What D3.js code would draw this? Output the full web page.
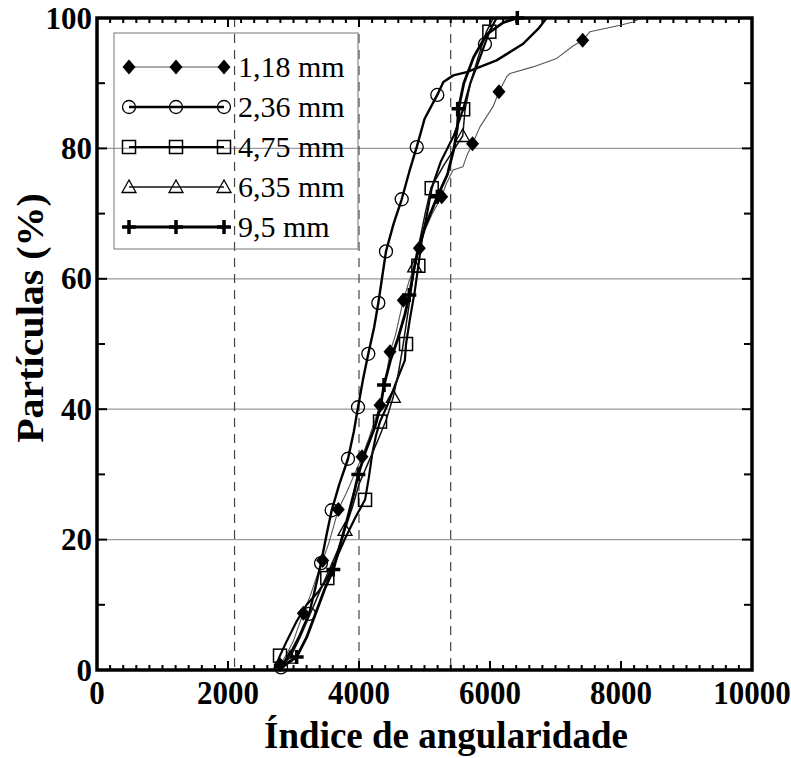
<!DOCTYPE html>
<html>
<head>
<meta charset="utf-8">
<script src="https://cdn.jsdelivr.net/npm/d3@7"></script>
<style>
  body { margin: 0; background: #fff; }
  svg { display: block; }
  text { font-family: "Liberation Serif", "Times New Roman", serif; fill: #000; }
</style>
</head>
<body>
<div id="chart"></div>
<script>
// series: [indice de angularidade, particulas %]
var line118 = [[2750,0],[2794,0.8],[2900,2.5],[3000,4.5],[3080,6.8],[3150,8.7],[3260,11.5],[3350,14.2],[3446,16.8],[3540,19.5],[3620,22.3],[3684,24.6],[3800,27],[3930,30],[4046,32.7],[4150,35.5],[4240,38.2],[4321,40.6],[4390,43.5],[4430,46],[4473,48.8],[4560,51.5],[4620,54.2],[4676,56.7],[4760,59.5],[4850,62],[4921,64.7],[5010,67.5],[5120,70],[5263,72.6],[5330,74.5],[5435,76.7],[5588,77.2],[5650,79],[5733,80.7],[5847,83.3],[6046,86.4],[6137,88.7],[6255,91],[6305,91.5],[6656,92.5],[7018,93.8],[7267,95.7],[7415,96.6],[7527,97.9],[7985,98.9],[8183,99.4],[8300,100]];
var line236 = [[2750,0],[2809,0.4],[2950,2.5],[3080,5],[3237,8.6],[3320,12],[3420,16.4],[3500,20.5],[3583,24.5],[3700,28.5],[3832,32.4],[3920,36.5],[3985,40.3],[4060,44.5],[4142,48.5],[4230,52.5],[4295,56.3],[4350,60],[4412,64.2],[4530,68.5],[4652,72.2],[4770,76.5],[4881,80.2],[5000,84.5],[5195,88.2],[5288,90.2],[5440,91.2],[5644,91.7],[6100,93.5],[6500,96],[6750,98.5],[6865,100]];
var line475 = [[2700,0],[2794,2.2],[2900,4.5],[3050,7.5],[3200,10],[3380,12],[3516,14.1],[3650,17],[3780,20],[3950,23.5],[4092,26.1],[4150,29.5],[4200,33],[4260,36],[4321,38.1],[4450,41],[4600,45],[4700,47.5],[4718,50],[4780,54],[4850,58],[4906,62],[4960,66],[5040,70],[5110,73.9],[5250,78],[5450,82],[5590,86],[5700,90],[5850,94],[5990,97.9],[6100,100]];
var line635 = [[2750,0],[2850,1],[2950,1.9],[3100,5],[3250,8.5],[3400,12],[3550,15.5],[3680,18.5],[3786,21.5],[3900,25],[4000,28.5],[4150,32],[4300,35.5],[4420,38.5],[4524,41.9],[4600,45.5],[4660,49],[4720,53],[4780,57],[4850,61.9],[4930,66],[5010,70],[5100,74],[5300,77.5],[5583,81.9],[5620,86],[5700,90],[5820,94],[5950,98],[6050,100]];
var line95 = [[2780,0],[2900,1],[3048,2],[3200,5],[3350,9],[3480,12.5],[3608,15.4],[3720,19.5],[3830,23.5],[3920,27],[3990,30],[4100,33.5],[4250,37.5],[4330,40.5],[4382,43.7],[4480,47.5],[4600,51],[4700,54.5],[4768,57.5],[4830,61],[4900,64.5],[5010,68],[5196,72.6],[5350,76],[5450,80],[5500,83],[5520,86.1],[5600,90],[5750,94],[5950,97.5],[6200,99.3],[6417,100]];

// marker positions
var marks118 = [[2794,0.8],[3150,8.7],[3446,16.8],[3684,24.6],[4046,32.7],[4321,40.6],[4473,48.8],[4676,56.7],[4921,64.7],[5263,72.6],[5733,80.7],[6137,88.7],[7415,96.6]];
var marks236 = [[2809,0.4],[3237,8.6],[3420,16.4],[3583,24.5],[3832,32.4],[3985,40.3],[4142,48.5],[4295,56.3],[4412,64.2],[4652,72.2],[4881,80.2],[5195,88.2],[5923,96]];
var marks475 = [[2794,2.2],[3516,14.1],[4092,26.1],[4321,38.1],[4718,50],[4906,62],[5110,73.9],[5590,86],[5990,97.9]];
var marks635 = [[2950,1.9],[3786,21.5],[4524,41.9],[4850,61.9],[5583,81.9]];
var marks95 = [[3048,2],[3608,15.4],[3990,30],[4382,43.7],[4768,57.5],[5196,72.6],[5520,86.1],[6417,100]];

var seriesNames = ["1,18 mm", "2,36 mm", "4,75 mm", "6,35 mm", "9,5 mm"];
var xTicks = [0, 2000, 4000, 6000, 8000, 10000];
var yTicks = [0, 20, 40, 60, 80, 100];
var classLimits = [2100, 4000, 5400];

var svgWidth = 791;
var svgHeight = 758;
var margin = { top: 18, right: 39, bottom: 88, left: 97 };
var width = svgWidth - margin.left - margin.right;
var height = svgHeight - margin.top - margin.bottom;

var svg = d3.select("#chart").append("svg")
  .attr("width", svgWidth)
  .attr("height", svgHeight);

var chartGroup = svg.append("g")
  .attr("transform", `translate(${margin.left}, ${margin.top})`);

var x = d3.scaleLinear().domain([0, 10000]).range([0, width]);
var y = d3.scaleLinear().domain([0, 100]).range([height, 0]);

// the original figure is a bit taller than wide, so some text gets a vertical stretch
function stretchedText(parent, tx, ty, sx, sy, str, size, anchor, weight) {
  return parent.append("g")
    .attr("transform", `translate(${tx}, ${ty}) scale(${sx}, ${sy})`)
    .append("text")
    .attr("text-anchor", anchor)
    .attr("font-size", size)
    .attr("font-weight", weight)
    .text(str);
}

// grid lines
chartGroup.append("g").selectAll("line")
  .data([20, 40, 60, 80])
  .enter().append("line")
  .attr("x1", 0).attr("x2", width)
  .attr("y1", d => y(d)).attr("y2", d => y(d))
  .attr("stroke", "#9a9a9a")
  .attr("stroke-width", 1.2);

chartGroup.append("g").selectAll("line")
  .data(classLimits)
  .enter().append("line")
  .attr("x1", d => x(d)).attr("x2", d => x(d))
  .attr("y1", 0).attr("y2", height)
  .attr("stroke", "#444")
  .attr("stroke-width", 1.2)
  .attr("stroke-dasharray", "9,7");

// inward ticks on all four sides
var xMinor = d3.range(0, 10001, 200);
var yMinor = d3.range(0, 101, 10);
var tickG = chartGroup.append("g").attr("stroke", "#000").attr("stroke-width", 2);
xMinor.forEach(function(v) {
  var len = v % 2000 === 0 ? 9 : 5;
  tickG.append("line").attr("x1", x(v)).attr("x2", x(v)).attr("y1", height).attr("y2", height - len);
  tickG.append("line").attr("x1", x(v)).attr("x2", x(v)).attr("y1", 0).attr("y2", len);
});
yMinor.forEach(function(v) {
  var len = v % 20 === 0 ? 10 : 8;
  tickG.append("line").attr("x1", 0).attr("x2", len).attr("y1", y(v)).attr("y2", y(v));
  tickG.append("line").attr("x1", width).attr("x2", width - len).attr("y1", y(v)).attr("y2", y(v));
});

// tick labels
xTicks.forEach(function(t) {
  stretchedText(chartGroup, x(t), height + 34, 1, 1.1, t, "31px", "middle", "bold");
});
yTicks.forEach(function(t) {
  stretchedText(chartGroup, -5, y(t) + 10.5, 1, 1, t, "31px", "end", "bold");
});

// axis titles
stretchedText(svg, 446, 748, 1, 1.05, "Índice de angularidade", "37px", "middle", "bold");

svg.append("g")
  .attr("transform", "translate(43, 318) rotate(-90) scale(1.08, 1.05)")
  .append("text")
  .attr("text-anchor", "middle")
  .attr("font-size", "37px")
  .attr("font-weight", "bold")
  .text("Partículas (%)");

// series styles
var lineStyle = [
  { data: line118, marks: marks118, stroke: "#555", width: 1.1, shape: "diamond" },
  { data: line236, marks: marks236, stroke: "#000", width: 2.4, shape: "circle" },
  { data: line475, marks: marks475, stroke: "#000", width: 2.2, shape: "square" },
  { data: line635, marks: marks635, stroke: "#111", width: 1.5, shape: "triangle" },
  { data: line95, marks: marks95, stroke: "#000", width: 2.8, shape: "plus" }
];

var line = d3.line()
  .x(d => x(d[0]))
  .y(d => y(d[1]));

function drawMarker(g, shape, cx, cy) {
  if (shape === "diamond") {
    g.append("path").attr("d", `M${cx},${cy - 7.5}L${cx + 6.5},${cy}L${cx},${cy + 7.5}L${cx - 6.5},${cy}Z`)
      .attr("fill", "#000");
  } else if (shape === "circle") {
    g.append("circle").attr("cx", cx).attr("cy", cy).attr("r", 6.5)
      .attr("fill", "none").attr("stroke", "#000").attr("stroke-width", 1.3);
  } else if (shape === "square") {
    g.append("rect").attr("x", cx - 6.5).attr("y", cy - 6.5).attr("width", 13).attr("height", 13)
      .attr("fill", "none").attr("stroke", "#000").attr("stroke-width", 1.5);
  } else if (shape === "triangle") {
    g.append("path").attr("d", `M${cx},${cy - 7}L${cx + 7},${cy + 5.5}L${cx - 7},${cy + 5.5}Z`)
      .attr("fill", "none").attr("stroke", "#000").attr("stroke-width", 1.3);
  } else {
    g.append("path").attr("d", `M${cx - 7},${cy}H${cx + 7}M${cx},${cy - 7}V${cy + 7}`)
      .attr("stroke", "#000").attr("stroke-width", 3.5);
  }
}

lineStyle.forEach(function(s) {
  chartGroup.append("path")
    .datum(s.data)
    .attr("fill", "none")
    .attr("stroke", s.stroke)
    .attr("stroke-width", s.width)
    .attr("stroke-linejoin", "round")
    .attr("d", line);
  var mg = chartGroup.append("g");
  s.marks.forEach(function(m) {
    drawMarker(mg, s.shape, x(m[0]), y(m[1]));
  });
});

// frame
chartGroup.append("rect")
  .attr("x", 0).attr("y", 0)
  .attr("width", width).attr("height", height)
  .attr("fill", "none")
  .attr("stroke", "#000")
  .attr("stroke-width", 3.5);

// legend
var legend = svg.append("g");
legend.append("rect")
  .attr("x", 114).attr("y", 33)
  .attr("width", 244).attr("height", 216)
  .attr("fill", "none")
  .attr("stroke", "#777")
  .attr("stroke-width", 1);

lineStyle.forEach(function(s, i) {
  var ly = 67 + i * 40;
  legend.append("line")
    .attr("x1", 129).attr("x2", 224)
    .attr("y1", ly).attr("y2", ly)
    .attr("stroke", s.stroke)
    .attr("stroke-width", s.width);
  [129, 176, 224].forEach(function(lx) { drawMarker(legend, s.shape, lx, ly); });
  legend.append("text")
    .attr("x", 238)
    .attr("y", ly + 10)
    .attr("font-size", "30px")
    .text(seriesNames[i]);
});
</script>
</body>
</html>
